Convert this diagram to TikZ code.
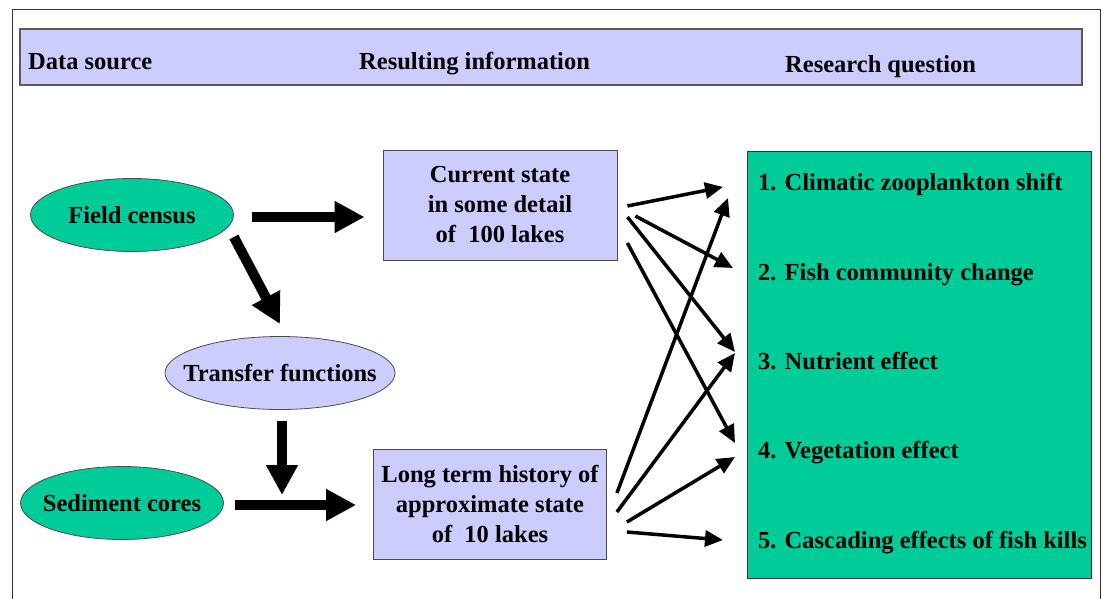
\documentclass[tikz,border=0pt]{standalone}
\usepackage{fontspec}
\setmainfont{Liberation Serif}
\usepackage{tikz}
\usetikzlibrary{arrows.meta, calc, positioning, shapes.geometric}
\definecolor{lavender}{RGB}{204,204,255}
\definecolor{seagreen}{RGB}{0,204,153}

\begin{document}
\begin{tikzpicture}[x=1pt, y=-1pt,
    every node/.style={font=\fontsize{24.5}{30}\selectfont\bfseries, text=black},
    band/.style={rectangle, draw=black!65, line width=1.5pt, fill=lavender, minimum width=1062pt, minimum height=56pt},
    source/.style={ellipse, draw=black!70, line width=0.8pt, fill=seagreen, minimum width=203pt, minimum height=73pt, inner xsep=-30pt, inner ysep=0pt},
    info/.style={rectangle, draw=black!70, line width=0.8pt, fill=lavender, minimum width=234pt, minimum height=110pt, align=center, inner sep=0pt},
    qbox/.style={rectangle, draw=black!80, line width=0.8pt, fill=seagreen, minimum width=344pt, minimum height=427pt},
    question/.style={anchor=base west, inner sep=0pt},
    bigarrow/.style={line width=10pt, -{Triangle[width=30pt, length=30pt]}},
    thinarrow/.style={line width=3.5pt, -{Triangle[width=16pt, length=18pt]}}]
    \useasboundingbox (0,0) rectangle (1103,599);
    \draw[black!80, line width=1pt] (12,599) |- (1100,10) -- (1100,599);

    % header
    \node[band] (head) at (551,57) {};
    \node[anchor=base west, inner sep=0pt] (hsource) at (28,70) {Data source};
    \node[anchor=base west, inner sep=0pt] (hinfo) at (359,70) {Resulting information};
    \node[anchor=base west, inner sep=0pt] (hquestion) at (785,73) {Research question};

    % data sources
    \node[source] (fc) at (132,215) {Field census};
    \node[source, fill=lavender, minimum width=230pt] (tf) at (280,373) {Transfer functions};
    \node[source] (sc) at (122,503) {Sediment cores};

    % resulting information
    \node[info] (cs) at (500,205) {Current state\\in some detail\\of~~100 lakes};
    \node[info, minimum width=233pt] (lt) at (490,504) {Long term history of\\approximate state\\of~~10 lakes};

    % research questions
    \node[qbox] (qs) at (919,364.5) {};
    \node[question] (q1) at (758,190) {1. Climatic zooplankton shift};
    \node[question] (q2) at (758,280) {2. Fish community change};
    \node[question] (q3) at (758,369) {3. Nutrient effect};
    \node[question] (q4) at (758,458) {4. Vegetation effect};
    \node[question] (q5) at (758,548) {5. Cascading effects of fish kills};

    \coordinate (join) at (282,505);

    % thick arrows
    \draw[bigarrow] ($(fc.east)+(18,2)$) -- ($(cs.west)+(-18,12)$);
    \draw[bigarrow] ($(fc.east)+(0,22)$) -- ($(tf.north)+(0,-12)$);
    \draw[bigarrow] ($(tf.south)+(2,11)$) -- ($(join)+(0,-10)$);
    \draw[bigarrow] ($(sc.east)+(11,2)$) -- ($(lt.west)+(-17,1)$);

    % thin arrows
    \draw[thinarrow] ($(cs.east)+(10,1)$) -- ($(q1.base west)+(-35,-3)$);
    \draw[thinarrow] ($(cs.east)+(18,11)$) -- ($(q2.base west)+(-25,-12)$);
    \draw[thinarrow] ($(cs.east)+(10,12)$) -- ($(q3.base west)+(-23,-17)$);
    \draw[thinarrow] ($(cs.east)+(10,38)$) -- ($(q4.base west)+(-23,-15)$);
    \draw[thinarrow] ($(lt.east)+(10,-11)$) -- ($(q1.base west)+(-30,8)$);
    \draw[thinarrow] ($(lt.east)+(10,8)$) -- ($(q3.base west)+(-23,-16)$);
    \draw[thinarrow] ($(lt.east)+(20,18)$) -- ($(q4.base west)+(-23,-1)$);
    \draw[thinarrow] ($(lt.east)+(20,28)$) -- ($(q5.base west)+(-35,-8)$);
\end{tikzpicture}
\end{document}
